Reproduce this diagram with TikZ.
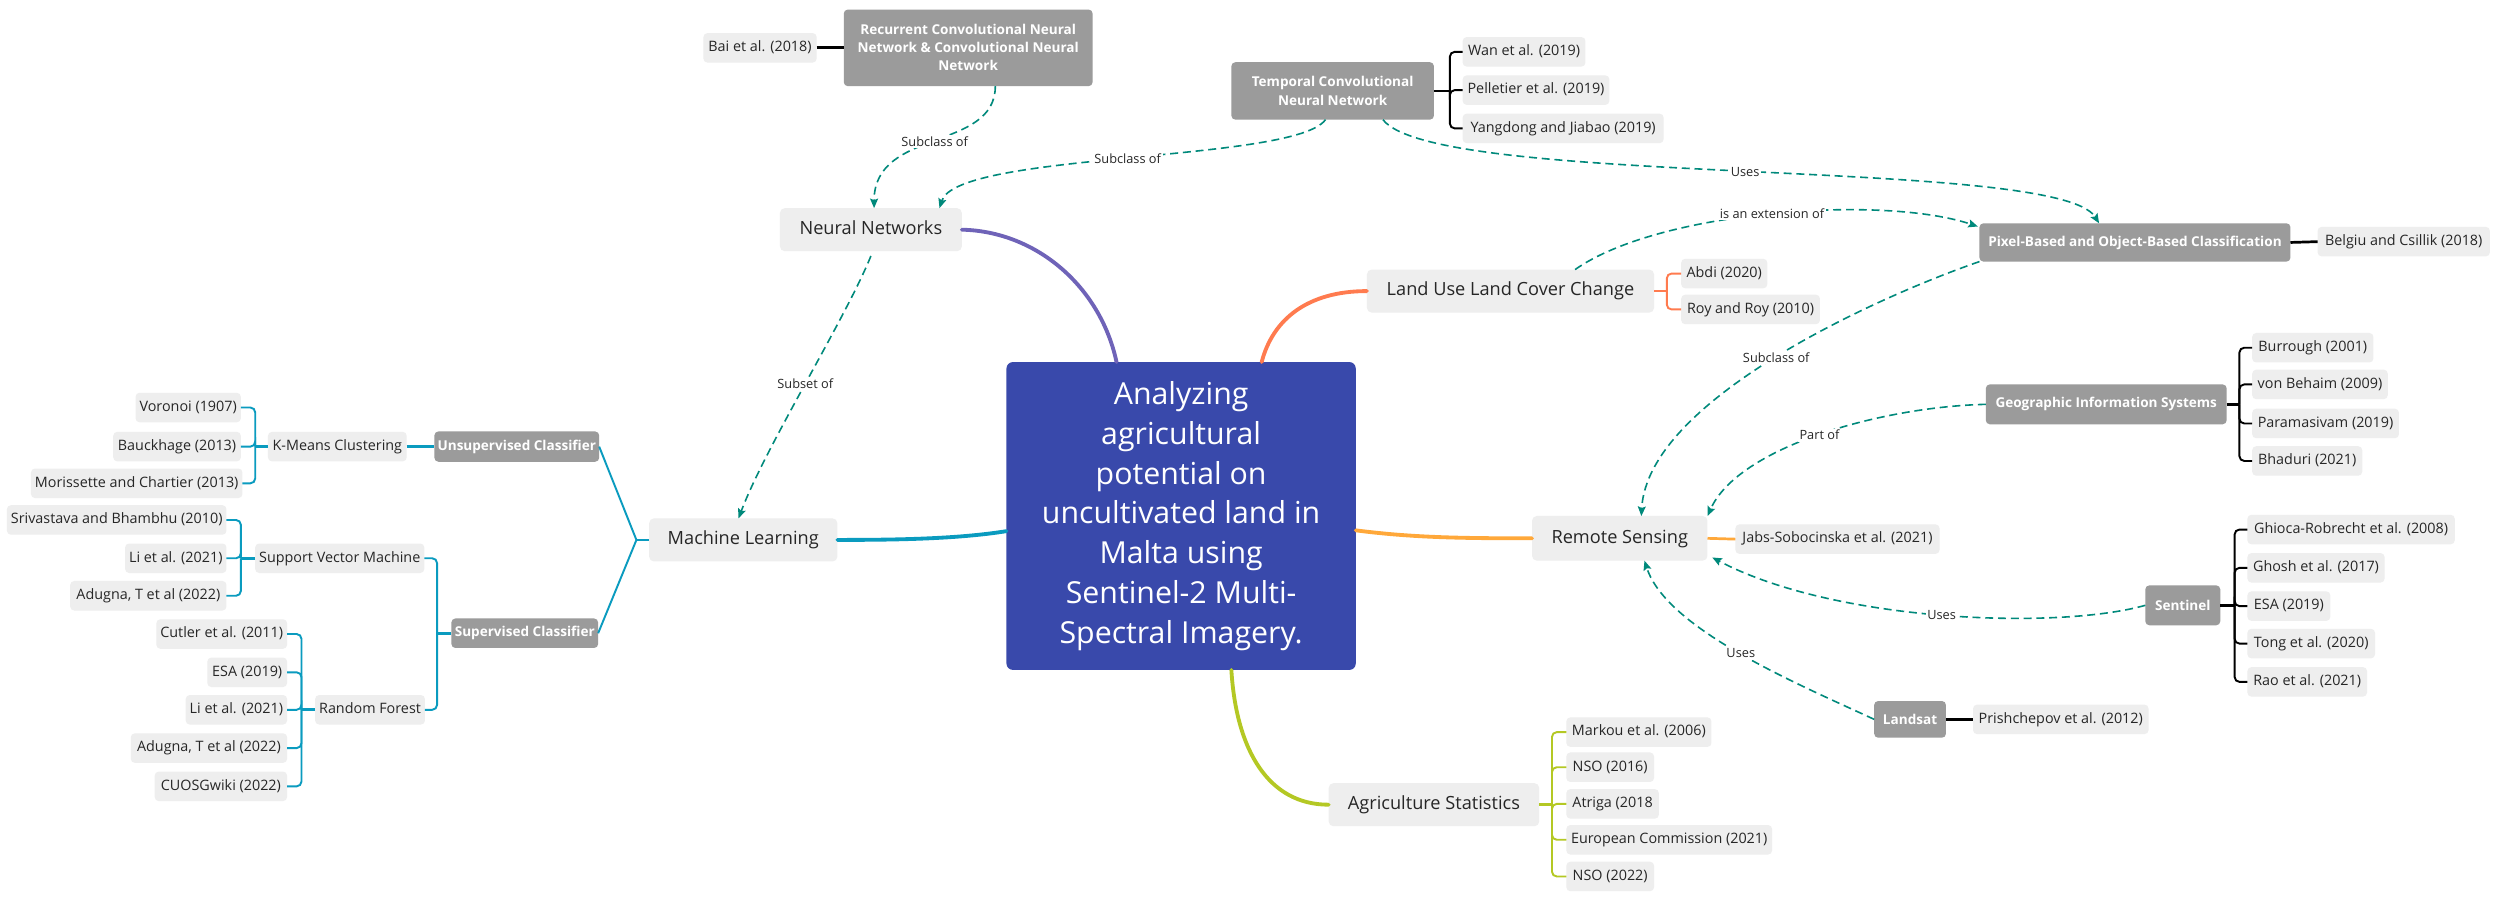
\documentclass[tikz,border=0pt]{standalone}
\usepackage{fontspec}
\setmainfont{Open Sans}
\usetikzlibrary{arrows.meta}
\definecolor{cblue}{HTML}{3949AB}
\definecolor{cpurple}{HTML}{6F63B8}
\definecolor{ccoral}{HTML}{FF7B4F}
\definecolor{cteal}{HTML}{0A9BBF}
\definecolor{corange}{HTML}{FFA83A}
\definecolor{cygreen}{HTML}{B4C824}
\definecolor{cdash}{HTML}{00897B}
\definecolor{cdark}{HTML}{9B9B9B}
\definecolor{clight}{HTML}{EEEEEE}
\definecolor{ctext}{HTML}{262626}
\begin{document}
\begin{tikzpicture}[x=1pt,y=-1pt,
  every node/.style={inner sep=0pt, outer sep=0pt},
  lbox/.style={fill=clight, rounded corners=2.5pt, text=ctext, font=\fontsize{9}{11}\selectfont, inner xsep=2.5pt, minimum height=18.5pt, text height=7pt, text depth=2.2pt},
  mbox/.style={fill=clight, rounded corners=3pt, text=ctext, font=\fontsize{11.4}{14}\selectfont, minimum height=27pt, text height=8.8pt, text depth=2.8pt},
  dbox/.style={fill=cdark, rounded corners=2.5pt, text=white, font=\bfseries\fontsize{8.5}{11.3}\selectfont, align=center, inner xsep=2pt},
  central/.style={fill=cblue, rounded corners=4pt, text=white, font=\fontsize{19}{24.9}\selectfont, align=center, minimum width=219pt, minimum height=193pt},
  branch/.style={line width=2.4pt, line cap=round},
  stub/.style={line width=1.7pt},
  br/.style={line width=1.2pt, rounded corners=3pt},
  conn/.style={draw=cdash, line width=1pt, dash pattern=on 5pt off 3pt, -{Stealth[length=6pt,width=5pt,inset=1pt]}},
  lab/.style={fill=white, text=ctext, font=\fontsize{8}{9}\selectfont, inner sep=1pt, pos=0.5},
  w/.style={minimum width=#1 pt}
]
\useasboundingbox[fill=white] (0,0) rectangle (1568,564.9);

% central
\node[central] (c) at (740.5,323.5) {Analyzing\\agricultural\\potential on\\uncultivated land in\\Malta using\\Sentinel-2 Multi-\\Spectral Imagery.};

% main topics
\node[mbox, w=114] (nn) at (546,144) {Neural Networks};
\node[mbox, w=118] (ml) at (466,338.5) {Machine Learning};
\node[mbox, w=180] (lulc) at (947,182.5) {Land Use Land Cover Change};
\node[mbox, w=110, minimum height=28pt] (rs) at (1015.5,337.5) {Remote Sensing};
\node[mbox, w=132] (as) at (899,504.5) {Agriculture Statistics};

% dark boxes
\node[dbox, w=102, minimum height=19pt] (uc) at (324,280) {Unsupervised Classifier};
\node[dbox, w=92, minimum height=18.5pt] (sc) at (329,397) {Supervised Classifier};
\node[dbox, w=156, minimum height=48pt] (rcnn) at (607,30) {Recurrent Convolutional Neural\\Network \& Convolutional Neural\\Network};
\node[dbox, w=127, minimum height=36pt] (tcnn) at (835.5,57) {Temporal Convolutional\\Neural Network};
\node[dbox, w=195, minimum height=24pt] (pb) at (1338.5,152) {Pixel-Based and Object-Based Classification};
\node[dbox, w=151, minimum height=25pt] (gis) at (1320.5,253.5) {Geographic Information Systems};
\node[dbox, w=47, minimum height=25pt] (sen) at (1368.5,379.5) {Sentinel};
\node[dbox, w=45, minimum height=23pt] (lan) at (1197.5,451) {Landsat};

% light sub-parents
\node[lbox, w=87] (km) at (211.5,280) {K-Means Clustering};
\node[lbox, w=106] (svm) at (213,350) {Support Vector Machine};
\node[lbox, w=68] (rf) at (232,445) {Random Forest};

% left leaves
\node[lbox, w=65, anchor=east] (vor) at (151,255.5) {Voronoi (1907)};
\node[lbox, w=80, anchor=east] (bau) at (151,280) {Bauckhage (2013)};
\node[lbox, w=130, anchor=east] (mor) at (152,303) {Morissette and Chartier (2013)};
\node[lbox, w=135, anchor=east] (sri) at (142,326) {Srivastava and Bhambhu (2010)};
\node[lbox, w=63, anchor=east] (lia) at (142,350) {Li et al. (2021)};
\node[lbox, w=98, anchor=east] (adua) at (142,373.5) {Adugna, T et al (2022)};
\node[lbox, w=79, anchor=east] (cut) at (180,397.5) {Cutler et al. (2011)};
\node[lbox, w=50, anchor=east] (esaa) at (180,421.5) {ESA (2019)};
\node[lbox, w=63, anchor=east] (lib) at (180,445) {Li et al. (2021)};
\node[lbox, w=98, anchor=east] (adub) at (180,469) {Adugna, T et al (2022)};
\node[lbox, w=83, anchor=east] (cuo) at (180,493) {CUOSGwiki (2022)};
\node[lbox, w=71, anchor=east] (bai) at (512,30) {Bai et al. (2018)};

% right leaves
\node[lbox, w=77, anchor=west] (wan) at (917,32.5) {Wan et al. (2019)};
\node[lbox, w=92, anchor=west] (pel) at (917,56.5) {Pelletier et al. (2019)};
\node[lbox, w=126, anchor=west] (yan) at (917,80.5) {Yangdong and Jiabao (2019)};
\node[lbox, w=108, anchor=west] (bel) at (1453,151.5) {Belgiu and Csillik (2018)};
\node[lbox, w=54, anchor=west] (abd) at (1054,171.5) {Abdi (2020)};
\node[lbox, w=87, anchor=west] (roy) at (1054,194) {Roy and Roy (2010)};
\node[lbox, w=76, anchor=west] (bur) at (1412,218) {Burrough (2001)};
\node[lbox, w=85, anchor=west] (von) at (1412,241) {von Behaim (2009)};
\node[lbox, w=92, anchor=west] (par) at (1412,265.5) {Paramasivam (2019)};
\node[lbox, w=69, anchor=west] (bha) at (1412,289) {Bhaduri (2021)};
\node[lbox, w=128, anchor=west] (jab) at (1088,338) {Jabs-Sobocinska et al. (2021)};
\node[lbox, w=130, anchor=west] (ghi) at (1409,332) {Ghioca-Robrecht et al. (2008)};
\node[lbox, w=86, anchor=west] (gho) at (1409,356) {Ghosh et al. (2017)};
\node[lbox, w=52, anchor=west] (esab) at (1409,380) {ESA (2019)};
\node[lbox, w=80, anchor=west] (ton) at (1409,403.5) {Tong et al. (2020)};
\node[lbox, w=75, anchor=west] (rao) at (1409,427.5) {Rao et al. (2021)};
\node[lbox, w=110, anchor=west] (pri) at (1237,451) {Prishchepov et al. (2012)};
\node[lbox, w=91, anchor=west] (mar) at (982,459) {Markou et al. (2006)};
\node[lbox, w=55, anchor=west] (nsoa) at (982,481) {NSO (2016)};
\node[lbox, w=58, anchor=west] (atr) at (982,504) {Atriga (2018};
\node[lbox, w=129, anchor=west] (eur) at (982,526.5) {European Commission (2021)};
\node[lbox, w=55, anchor=west] (nsob) at (982,549.5) {NSO (2022)};

% main branches
\draw[branch, cpurple] (nn.east) .. controls (650,145) and (690,180) .. ([xshift=-40.5pt]c.north);
\draw[branch, ccoral] ([xshift=50.5pt]c.north) .. controls (798,200) and (820,182.5) .. (lulc.west);
\draw[branch, cteal] ([yshift=-9.5pt]c.west) .. controls (600,338) and (560,338.5) .. (ml.east);
\draw[branch, corange] ([yshift=-9pt]c.east) .. controls (885,337) and (915,337.5) .. (rs.west);
\draw[branch, cygreen] ([xshift=31.5pt]c.south) .. controls (775,470) and (795,504.5) .. (as.west);

% machine learning subtree
\coordinate (mlV) at (399,338.5);
\draw[stub, cteal] (ml.west) -- (mlV);
\draw[line width=1.2pt, cteal] (uc.east) -- (mlV) -- (sc.east);
\draw[stub, cteal] (km.east) -- (uc.west);
\coordinate (kmS) at (160,280);
\draw[stub, cteal] (km.west) -- (kmS);
\foreach \n in {vor,bau,mor} \draw[br, cteal] (kmS) |- (\n.east);
\coordinate (scS) at (274,397);
\draw[stub, cteal] (sc.west) -- (scS);
\draw[br, cteal] (scS) |- (svm.east);
\draw[br, cteal] (scS) |- (rf.east);
\coordinate (svmS) at (151,350);
\draw[stub, cteal] (svm.west) -- (svmS);
\foreach \n in {sri,lia,adua} \draw[br, cteal] (svmS) |- (\n.east);
\coordinate (rfS) at (189,445);
\draw[stub, cteal] (rf.west) -- (rfS);
\foreach \n in {cut,esaa,lib,adub,cuo} \draw[br, cteal] (rfS) |- (\n.east);

% neural network leaves
\draw[stub, black] (bai.east) -- (rcnn.west);
\coordinate (tcS) at (909,57);
\draw[stub, black] (tcnn.east) -- (tcS);
\foreach \n in {wan,pel,yan} \draw[br, black] (tcS) |- (\n.west);

% right side leaves
\draw[stub, black] (pb.east) -- (bel.west);
\coordinate (luS) at (1045,182.5);
\draw[stub, ccoral] (lulc.east) -- (luS);
\foreach \n in {abd,roy} \draw[br, ccoral] (luS) |- (\n.west);
\coordinate (giS) at (1404,253.5);
\draw[stub, black] (gis.east) -- (giS);
\foreach \n in {bur,von,par,bha} \draw[br, black] (giS) |- (\n.west);
\draw[stub, corange] (rs.east) -- (jab.west);
\coordinate (seS) at (1401,379.5);
\draw[stub, black] (sen.east) -- (seS);
\foreach \n in {ghi,gho,esab,ton,rao} \draw[br, black] (seS) |- (\n.west);
\draw[stub, black] (lan.east) -- (pri.west);
\coordinate (asS) at (973,504.5);
\draw[stub, cygreen] (as.east) -- (asS);
\foreach \n in {mar,nsoa,atr,eur,nsob} \draw[br, cygreen] (asS) |- (\n.west);

% dashed relations
\draw[conn] ([xshift=17pt]rcnn.south) .. controls (624,95) and (548,80) .. node[lab]{Subclass of} ([xshift=2pt]nn.north);
\draw[conn] ([xshift=-4.5pt]tcnn.south) .. controls (812,102) and (600,95) .. node[lab]{Subclass of} ([xshift=43pt]nn.north);
\draw[conn] ([xshift=31.5pt]tcnn.south) .. controls (900,118) and (1290,98) .. node[lab]{Uses} ([xshift=-22.5pt]pb.north);
\draw[conn] ([xshift=40.5pt]lulc.north) .. controls (1040,132) and (1180,122) .. node[lab]{is an extension of} ([xshift=-1pt,yshift=-2pt]pb.north west);
\draw[conn] (pb.south west) .. controls (1180,185) and (1033,250) .. node[lab]{Subclass of} ([xshift=13.5pt]rs.north);
\draw[conn] (gis.west) .. controls (1180,255) and (1090,280) .. node[lab]{Part of} (rs.north east);
\draw[conn] (sen.west) .. controls (1290,395) and (1150,390) .. node[lab]{Uses} ([xshift=3pt,yshift=2pt]rs.south east);
\draw[conn] (lan.west) .. controls (1130,430) and (1045,395) .. node[lab]{Uses} ([xshift=15.5pt]rs.south);
\draw[conn] ([yshift=-3pt]nn.south) .. controls (530,200) and (480,280) .. node[lab]{Subset of} ([xshift=-3pt]ml.north);
\end{tikzpicture}
\end{document}
